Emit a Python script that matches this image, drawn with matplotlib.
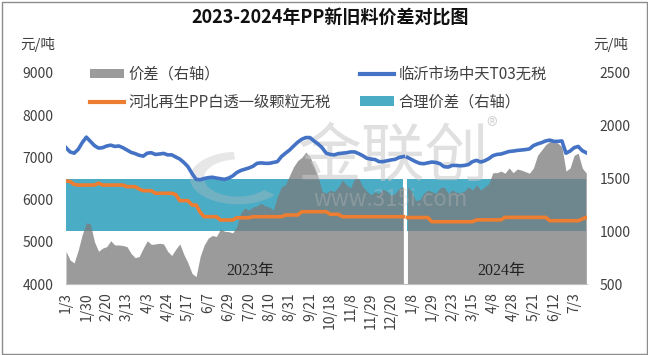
import matplotlib
matplotlib.use('Agg')
import matplotlib.pyplot as plt
from matplotlib.patches import Patch, Rectangle, Wedge
from matplotlib.lines import Line2D
import numpy as np

plt.rcParams['font.family'] = ['Noto Sans CJK SC', 'DejaVu Sans']
plt.rcParams['axes.unicode_minus'] = False

# ── 数据（每 3 个交易日取一个点）──
tick_labels_2023 = ['1/3', '1/30', '2/20', '3/13', '4/3', '4/24', '5/17', '6/7', '6/29',
                    '7/20', '8/10', '8/31', '9/21', '10/18', '11/8', '11/29', '12/20']
tick_labels_2024 = ['1/8', '1/29', '2/23', '3/15', '4/8', '4/28', '5/21', '6/12', '7/3']

# 临沂市场中天T03无税（左轴）
linyi_2023 = [7230, 7130, 7100, 7190, 7350, 7480, 7380, 7280, 7220, 7230, 7270, 7290, 7260, 7270,
              7230, 7175, 7120, 7090, 7050, 7030, 7100, 7110, 7070, 7080, 7095, 7060, 7060, 7010,
              6960, 6880, 6780, 6620, 6480, 6470, 6500, 6520, 6530, 6510, 6495, 6480, 6510, 6560,
              6640, 6690, 6720, 6750, 6790, 6860, 6870, 6860, 6860, 6880, 6900, 7020, 7100, 7175,
              7270, 7360, 7430, 7470, 7470, 7390, 7320, 7230, 7100, 7070, 7060, 7090, 7100, 7110,
              7130, 7130, 7090, 7040, 6980, 6960, 6950, 6900, 6900, 6920, 6940, 6955, 7000, 7020]
linyi_2024 = [7000, 6950, 6900, 6860, 6850, 6870, 6890, 6880, 6850, 6780, 6770, 6810, 6810, 6800,
              6810, 6830, 6900, 6930, 6890, 6920, 6970, 7040, 7070, 7080, 7110, 7140, 7150, 7165,
              7175, 7185, 7200, 7280, 7320, 7350, 7390, 7410, 7380, 7380, 7390, 7100, 7150, 7230,
              7260, 7160, 7110]

# 河北再生PP白透一级颗粒无税（左轴）
hebei_2023 = [6440, 6430, 6360, 6345, 6345, 6345, 6345, 6345, 6390, 6345, 6345, 6345, 6345, 6345,
              6345, 6306, 6306, 6306, 6250, 6211, 6211, 6211, 6150, 6150, 6150, 6150, 6150, 6120,
              5975, 5975, 5975, 5872, 5872, 5700, 5595, 5595, 5595, 5595, 5516, 5516, 5516, 5516,
              5570, 5570, 5570, 5570, 5595, 5595, 5595, 5595, 5595, 5595, 5595, 5595, 5635, 5635,
              5635, 5635, 5713, 5713, 5713, 5713, 5713, 5713, 5713, 5652, 5652, 5652, 5595, 5595,
              5595, 5595, 5595, 5595, 5595, 5595, 5595, 5595, 5595, 5595, 5595, 5595, 5595, 5595]
hebei_2024 = [5575, 5575, 5575, 5575, 5575, 5575, 5476, 5476, 5476, 5476, 5476, 5476, 5476, 5476,
              5476, 5476, 5476, 5520, 5520, 5520, 5520, 5520, 5520, 5520, 5579, 5579, 5579, 5579,
              5579, 5579, 5579, 5579, 5579, 5579, 5579, 5500, 5500, 5500, 5500, 5500, 5500, 5500,
              5500, 5540, 5579]

# 价差（右轴）
spread_2023 = [810, 727, 700, 820, 970, 1080, 1070, 900, 810, 840, 854, 910, 870, 870,
               865, 854, 790, 750, 760, 840, 910, 875, 880, 886, 880, 810, 770, 830,
               880, 780, 700, 600, 570, 760, 870, 935, 960, 950, 1020, 1000, 996, 985,
               1043, 1180, 1220, 1200, 1230, 1240, 1265, 1240, 1230, 1201, 1330, 1420, 1440, 1530,
               1612, 1670, 1700, 1750, 1707, 1620, 1520, 1380, 1360, 1390, 1375, 1420, 1486, 1440,
               1410, 1500, 1500, 1423, 1380, 1345, 1375, 1360, 1400, 1375, 1340, 1360, 1410, 1420]
spread_2024 = [1420, 1380, 1290, 1300, 1360, 1390, 1375, 1360, 1410, 1420, 1360, 1390, 1370, 1365,
               1380, 1420, 1390, 1440, 1390, 1420, 1450, 1555, 1555, 1570, 1550, 1600, 1555, 1590,
               1580, 1565, 1550, 1600, 1720, 1770, 1820, 1850, 1849, 1835, 1800, 1570, 1600, 1720,
               1740, 1600, 1550]

# 合理价差（右轴）
fair_low, fair_high = 1000, 1500

# ── 颜色 ──
C_GRAY = '#7A7A7A'
C_BLUE = '#4472C4'
C_ORANGE = '#ED7D31'
C_TEAL = '#4BACC6'
C_TEXT = '#404040'
C_MARK = '#C8C8C8'

x23 = np.arange(len(linyi_2023)) * 3
x24 = 252 + np.arange(len(linyi_2024)) * 3

fig = plt.figure(figsize=(6.48, 3.55), dpi=100)
fig.patch.set_facecolor('white')
ax = fig.add_axes([66 / 648, 1 - 284 / 355, (587 - 66) / 648, (284 - 73) / 355])
ax2 = ax.twinx()


def px(x, y):
    return (x / 648, 1 - y / 355)


# 右轴：合理价差 + 价差面积
for xs, ys in [(x23, spread_2023), (x24, spread_2024)]:
    ax2.fill_between(xs, fair_low, fair_high, color=C_TEAL, lw=0, zorder=1)
    ax2.fill_between(xs, 500, ys, color=C_GRAY, alpha=0.75, lw=0, zorder=2)

# 水印（在价格线下面）
ft = fig.transFigure
ax2.text(*px(393, 157), '金联创', transform=ft, ha='center', va='center', fontsize=46,
         color=C_MARK, alpha=0.55, zorder=3)
ax2.text(*px(492, 127), '®', transform=ft, ha='center', va='center', fontsize=16,
         color=C_MARK, alpha=0.8, zorder=3)
ax2.text(*px(391, 200), 'www.315i.com', transform=ft, ha='center', va='center', fontsize=16,
         color=C_MARK, alpha=0.3, zorder=3)
logo = Wedge(px(238, 178), 48 / 648, 95, 320, width=14 / 648,
             facecolor='#BBBBBB', edgecolor='none', alpha=0.35, zorder=3)
logo.set_transform(ft)
ax2.add_artist(logo)

# 左轴：两条价格线
ax.set_zorder(ax2.get_zorder() + 1)
ax.patch.set_visible(False)
for xs, ys in [(x23, linyi_2023), (x24, linyi_2024)]:
    ax.plot(xs, ys, color=C_BLUE, lw=2.6, solid_joinstyle='round')
for xs, ys in [(x23, hebei_2023), (x24, hebei_2024)]:
    ax.plot(xs, ys, color=C_ORANGE, lw=2.6, solid_joinstyle='round')

ax.set_xlim(0, 384.5)
ax.set_ylim(4000, 9000)
ax2.set_ylim(500, 2500)
ax.set_yticks(range(4000, 9001, 1000))
ax2.set_yticks(range(500, 2501, 500))

ticks = [15 * k for k in range(len(tick_labels_2023))] + \
        [255 + 15 * k for k in range(len(tick_labels_2024))]
ax.set_xticks(ticks)
ax.set_xticklabels(tick_labels_2023 + tick_labels_2024, rotation=90)

for a in (ax, ax2):
    for s in a.spines.values():
        s.set_visible(False)
ax.spines['bottom'].set_visible(True)
ax.spines['bottom'].set_color('#BFBFBF')
ax.tick_params(axis='x', length=0, pad=6, labelsize=10, colors=C_TEXT)
ax.tick_params(axis='y', length=0, pad=9, labelsize=10, colors=C_TEXT)
ax2.tick_params(axis='y', length=0, pad=9, labelsize=10, colors=C_TEXT)

# 年份标注
serif = ['Liberation Serif', 'Noto Sans CJK SC']
fig.text(*px(250, 271), '2023年', ha='center', va='center', fontsize=11.5, color='#222222',
         family=serif, zorder=5)
fig.text(*px(501, 271), '2024年', ha='center', va='center', fontsize=11.5, color='#222222',
         family=serif, zorder=5)

# 标题、单位
fig.text(*px(330, 18), '2023-2024年PP新旧料价差对比图', ha='center', va='center',
         fontsize=13, fontweight='bold', color='#111111')
fig.text(*px(20, 45), '元/吨', ha='left', va='center', fontsize=10.5, color=C_TEXT)
fig.text(*px(628, 45), '元/吨', ha='right', va='center', fontsize=10.5, color=C_TEXT)

# 图例
handles = [Patch(facecolor=C_GRAY, alpha=0.75, edgecolor='none'),
           Line2D([], [], color=C_ORANGE, lw=3),
           Line2D([], [], color=C_BLUE, lw=3),
           Patch(facecolor=C_TEAL, edgecolor='none')]
labels = ['价差（右轴）', '河北再生PP白透一级颗粒无税', '临沂市场中天T03无税', '合理价差（右轴）']
fig.legend(handles, labels, loc='upper left', bbox_to_anchor=px(90, 66),
           ncol=2, frameon=False, fontsize=11, labelcolor=C_TEXT, handlelength=2.2,
           handleheight=0.6, handletextpad=0.3, columnspacing=1.95, labelspacing=0.7,
           borderpad=0, borderaxespad=0)

# 外框
fig.patches.append(Rectangle((1.5 / 648, 1.5 / 355), 1 - 3 / 648, 1 - 3 / 355,
                             transform=fig.transFigure, fill=False, edgecolor='#8C8C8C', lw=1))

fig.savefig('out.png', dpi=100, facecolor='white')
